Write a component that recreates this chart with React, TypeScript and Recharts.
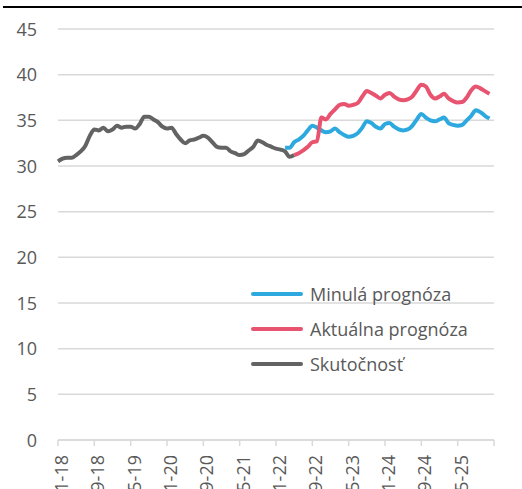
import React from "react";
import { CartesianGrid, Legend, Line, LineChart, XAxis, YAxis } from "recharts";

const FONT = "'Open Sans', sans-serif";
const TEXT = "#595959";
const GRID = "#D9D9D9";
const BLUE = "#2EA9DF";
const PINK = "#E8536F";
const GRAY = "#636363";

// months run 01-18 .. 12-25 (index 0..95), one axis label every 8 months
const TICK_LABELS = ["01-18", "09-18", "05-19", "01-20", "09-20", "05-21", "01-22", "09-22", "05-23", "01-24", "09-24", "05-25"];
const MONTH_COUNT = 96;
const Y_TICKS = [0, 5, 10, 15, 20, 25, 30, 35, 40, 45];

// Skutočnosť, from 01-18
const ACTUAL_START = 0;
const ACTUAL = [
  30.5, 30.8, 30.9, 30.9, 31.2, 31.6, 32.2, 33.3, 34.0, 33.9,
  34.2, 33.8, 34.0, 34.4, 34.2, 34.3, 34.3, 34.1, 34.6, 35.4,
  35.4, 35.1, 34.8, 34.3, 34.1, 34.2, 33.5, 32.9, 32.5, 32.8,
  32.9, 33.1, 33.3, 33.1, 32.6, 32.1, 32.0, 32.0, 31.6, 31.4,
  31.2, 31.3, 31.7, 32.1, 32.8, 32.6, 32.3, 32.1, 31.9, 31.8,
  31.6, 31.0, 31.2,
];

// Minulá prognóza, from 03-22
const PAST_START = 50;
const PAST_FORECAST = [
  32.0, 32.0, 32.6, 32.9, 33.3, 33.9, 34.4, 34.2, 33.9, 33.7,
  33.8, 34.1, 33.7, 33.4, 33.2, 33.3, 33.6, 34.2, 34.9, 34.7,
  34.3, 34.1, 34.6, 34.7, 34.3, 34.0, 33.9, 34.0, 34.4, 35.1,
  35.7, 35.3, 35.0, 34.9, 35.1, 35.3, 34.7, 34.5, 34.4, 34.5,
  35.0, 35.5, 36.1, 35.9, 35.5, 35.2,
];

// Aktuálna prognóza, from 05-22
const CURRENT_START = 52;
const CURRENT_FORECAST = [
  31.2, 31.4, 31.7, 32.1, 32.6, 32.7, 35.3, 35.1, 35.7, 36.2,
  36.7, 36.8, 36.6, 36.7, 36.9, 37.6, 38.2, 38.0, 37.7, 37.4,
  37.8, 38.0, 37.6, 37.3, 37.2, 37.3, 37.6, 38.3, 38.9, 38.7,
  37.8, 37.4, 37.6, 37.9, 37.4, 37.1, 36.95, 37.0, 37.5, 38.3,
  38.7, 38.5, 38.2, 37.9,
];

const LEGEND_ORDER = ["Minulá prognóza", "Aktuálna prognóza", "Skutočnosť"];

const pick = (arr: number[], start: number, i: number) =>
  i >= start && i < start + arr.length ? arr[i - start] : null;

const data = Array.from({ length: MONTH_COUNT }, (_, i) => ({
  i,
  actual: pick(ACTUAL, ACTUAL_START, i),
  past: pick(PAST_FORECAST, PAST_START, i),
  current: pick(CURRENT_FORECAST, CURRENT_START, i),
}));

const xTicks = [...TICK_LABELS.map((_, k) => k * 8), MONTH_COUNT];

function XTick({ x, payload }: any) {
  const label = TICK_LABELS[payload.value / 8] ?? "";
  return (
    <text
      transform={`translate(${x + 10}, 455) rotate(-90)`}
      textAnchor="end"
      fill={TEXT}
      fontSize={18}
      fontFamily={FONT}
    >
      {label}
    </text>
  );
}

function YTick({ y, payload }: any) {
  return (
    <text x={37} y={y} dy={6.5} textAnchor="end" fill={TEXT} fontSize={18} fontFamily={FONT}>
      {payload.value}
    </text>
  );
}

function LegendBox({ payload }: any) {
  const items = LEGEND_ORDER.map((name) => (payload || []).find((p: any) => p.value === name)).filter(Boolean);
  return (
    <div>
      {items.map((p: any) => (
        <div key={p.value} style={{ display: "flex", alignItems: "center", height: 35 }}>
          <svg width={52} height={6} style={{ marginRight: 7 }}>
            <line x1={2} y1={3} x2={50} y2={3} stroke={p.color} strokeWidth={4} strokeLinecap="round" />
          </svg>
          <span style={{ fontFamily: FONT, fontSize: 18, color: TEXT, whiteSpace: "nowrap" }}>{p.value}</span>
        </div>
      ))}
    </div>
  );
}

export default function App() {
  return (
    <div style={{ position: "absolute", left: 0, top: 0, width: 522, height: 489, background: "#fff", overflow: "hidden" }}>
      <div style={{ position: "absolute", left: 3, top: 6, width: 519, height: 2, background: "#000" }} />
      <LineChart width={522} height={489} data={data} margin={{ top: 29, right: 28, bottom: 9, left: 0 }}>
        <CartesianGrid vertical={false} stroke={GRID} strokeWidth={1.5} />
        <XAxis
          type="number"
          dataKey="i"
          domain={[0, MONTH_COUNT]}
          ticks={xTicks}
          interval={0}
          height={40}
          axisLine={{ stroke: GRID, strokeWidth: 1.5 }}
          tickLine={{ stroke: GRID, strokeWidth: 1.5 }}
          tickSize={6}
          tick={<XTick />}
        />
        <YAxis
          domain={[0, 45]}
          ticks={Y_TICKS}
          interval={0}
          width={58}
          axisLine={false}
          tickLine={false}
          tick={<YTick />}
        />
        <Legend
          layout="vertical"
          align="center"
          verticalAlign="middle"
          wrapperStyle={{ left: 251, top: 276, width: 260, margin: 0 }}
          content={<LegendBox />}
        />
        <Line type="monotone" dataKey="actual" name="Skutočnosť" stroke={GRAY} strokeWidth={4} dot={false} isAnimationActive={false} />
        <Line type="monotone" dataKey="past" name="Minulá prognóza" stroke={BLUE} strokeWidth={4} dot={false} isAnimationActive={false} />
        <Line type="monotone" dataKey="current" name="Aktuálna prognóza" stroke={PINK} strokeWidth={4} dot={false} isAnimationActive={false} />
      </LineChart>
    </div>
  );
}
